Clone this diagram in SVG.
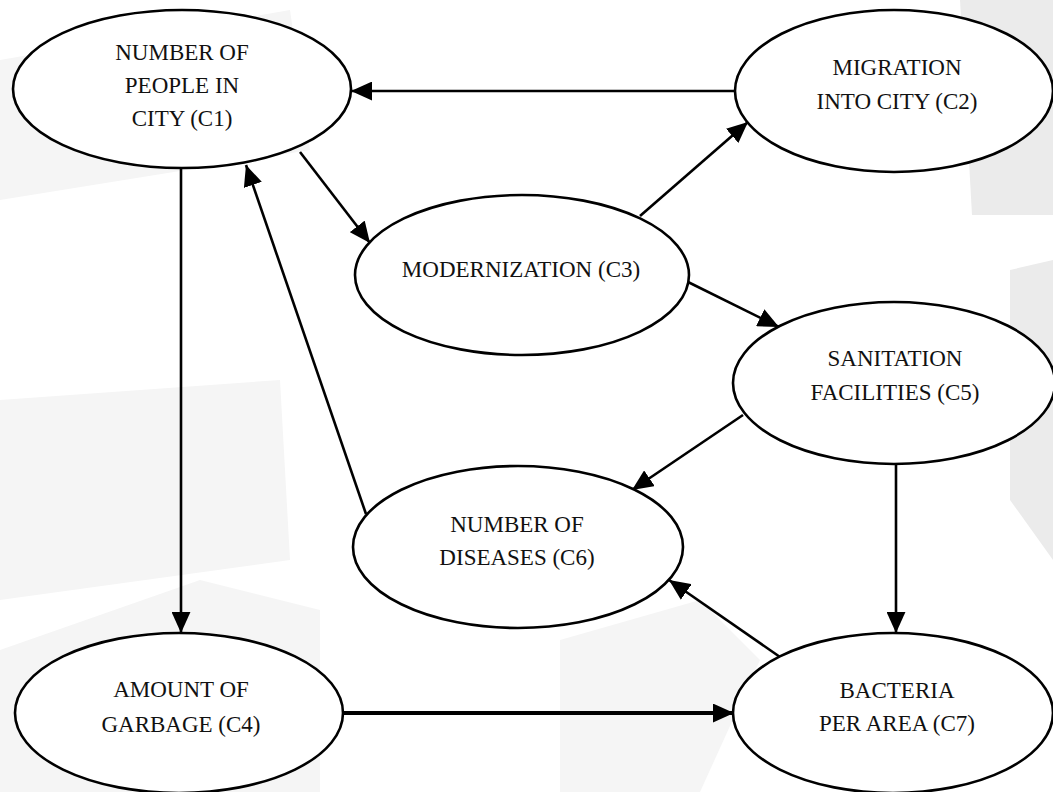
<svg xmlns="http://www.w3.org/2000/svg" width="1053" height="792" viewBox="0 0 1053 792">
  <style>
    .node ellipse { fill: #ffffff; stroke: #000000; stroke-width: 2.6; }
    .node text { font-family: "Liberation Serif", "Times New Roman", serif; font-size: 23px; fill: #111111; text-anchor: middle; }
    .edges line { stroke: #000000; stroke-width: 2.6; }
    .wm { fill: #ebebeb; }
    .wm2 { fill: #f5f5f5; }
  </style>
  <defs>
    <marker id="head" viewBox="0 0 20 18" refX="20" refY="9" markerWidth="21" markerHeight="19" orient="auto" markerUnits="userSpaceOnUse">
      <path d="M0,0 L20,9 L0,18 Z" fill="#000000"/>
    </marker>
  </defs>

  <!-- page background with faint watermark shapes -->
  <rect width="1053" height="792" fill="#ffffff"/>
  <g id="watermark">
    <polygon class="wm2" points="0,60 290,10 310,150 0,200"/>
    <polygon class="wm2" points="0,400 280,380 290,560 0,600"/>
    <polygon class="wm" points="960,0 1053,0 1053,215 972,215"/>
    <polygon class="wm" points="1010,270 1053,260 1053,560 1010,500"/>
    <polygon class="wm2" points="560,640 700,600 760,660 700,792 560,792"/>
    <polygon class="wm2" points="0,650 200,580 320,610 320,792 0,792"/>
  </g>

  <!-- connectors -->
  <g id="edges" class="edges">
    <line x1="735" y1="91" x2="351" y2="91" marker-end="url(#head)"/>
    <line x1="300" y1="152" x2="370" y2="243" marker-end="url(#head)"/>
    <line x1="181" y1="168" x2="181" y2="633" marker-end="url(#head)"/>
    <line x1="366" y1="514" x2="246" y2="165" marker-end="url(#head)"/>
    <line x1="640" y1="216" x2="748" y2="122" marker-end="url(#head)"/>
    <line x1="688" y1="282" x2="779" y2="327" marker-end="url(#head)"/>
    <line x1="743" y1="415" x2="632" y2="490" marker-end="url(#head)"/>
    <line x1="896" y1="463" x2="896" y2="633" marker-end="url(#head)"/>
    <line x1="780" y1="657" x2="669" y2="580" marker-end="url(#head)"/>
    <line x1="343" y1="713" x2="734" y2="713" marker-end="url(#head)" style="stroke-width:4"/>
  </g>

  <!-- nodes -->
  <g id="c1" class="node">
    <ellipse cx="182" cy="89" rx="169" ry="79"/>
    <text x="182" y="60">NUMBER OF</text>
    <text x="182" y="93">PEOPLE IN</text>
    <text x="182" y="126">CITY (C1)</text>
  </g>
  <g id="c2" class="node">
    <ellipse cx="894" cy="91" rx="159" ry="81"/>
    <text x="897" y="75">MIGRATION</text>
    <text x="897" y="109">INTO CITY (C2)</text>
  </g>
  <g id="c3" class="node">
    <ellipse cx="522" cy="275" rx="167" ry="80"/>
    <text x="521" y="277">MODERNIZATION (C3)</text>
  </g>
  <g id="c4" class="node">
    <ellipse cx="179" cy="713" rx="164" ry="80"/>
    <text x="181" y="697">AMOUNT OF</text>
    <text x="181" y="732">GARBAGE (C4)</text>
  </g>
  <g id="c5" class="node">
    <ellipse cx="894" cy="383" rx="161" ry="81"/>
    <text x="895" y="366">SANITATION</text>
    <text x="895" y="400">FACILITIES (C5)</text>
  </g>
  <g id="c6" class="node">
    <ellipse cx="518" cy="547" rx="165" ry="81"/>
    <text x="517" y="532">NUMBER OF</text>
    <text x="517" y="565">DISEASES (C6)</text>
  </g>
  <g id="c7" class="node">
    <ellipse cx="893" cy="713" rx="160" ry="80"/>
    <text x="897" y="698">BACTERIA</text>
    <text x="897" y="731">PER AREA (C7)</text>
  </g>
</svg>
